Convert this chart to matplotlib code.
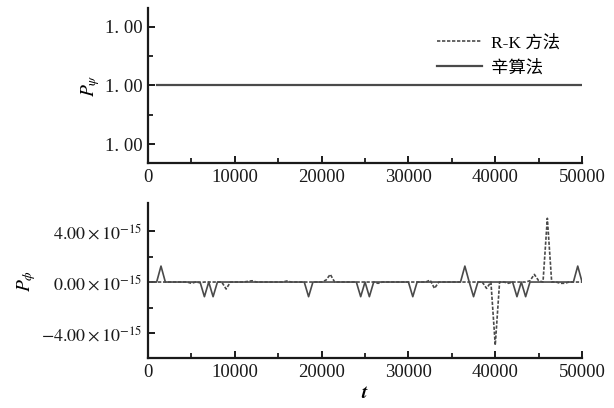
import numpy as np
import matplotlib
matplotlib.use("Agg")
import matplotlib.pyplot as plt
from matplotlib.ticker import FixedLocator, FixedFormatter, MultipleLocator

plt.rcParams['font.family'] = ['Liberation Serif', 'Noto Sans CJK SC']
plt.rcParams['mathtext.fontset'] = 'stix'

# time grid (step 500)
t = np.arange(0, 50001, 500)

# P_phi deviation, units of 1e-15
# symplectic (solid)
sym = [0, 0, 0, 1.25, 0, 0, 0, 0, 0, 0,
       0, 0, 0, -1.15, 0, -1.15, 0, 0, 0, 0,
       0, 0, 0, 0, 0, 0, 0, 0, 0, 0,
       0, 0, 0, 0, 0, 0, 0, -1.15, 0, 0,
       0, 0, 0, 0, 0, 0, 0, 0, 0, -1.15,
       0, -1.15, 0, 0, 0, 0, 0, 0, 0, 0,
       0, -1.15, 0, 0, 0, 0, 0, 0, 0, 0,
       0, 0, 0, 1.25, 0, -1.15, 0, 0, 0, 0,
       0, 0, 0, 0, 0, -1.15, 0, -1.15, 0, 0,
       0, 0, 0, 0, 0, 0, 0, 0, 0, 1.25,
       0]
# Runge-Kutta (dashed)
rk = [0, 0, 0, 0, 0, 0, 0, 0, 0, 0,
      -0.1, 0, -0.05, 0, 0, 0, 0, 0, -0.55, 0,
      0, 0, 0, 0.05, 0.1, 0, 0, 0, 0, 0,
      0, 0, 0.08, 0, 0, 0, 0, 0, 0, 0,
      0, 0.15, 0.6, 0, 0, 0, 0, 0, 0, 0,
      0, 0, 0, -0.1, 0, 0, 0, 0, 0, 0,
      0, 0, 0, 0, 0, 0.15, -0.5, 0, 0, 0,
      0, 0, 0, 0, 0, 0, 0, 0, -0.5, 0,
      -4.95, 0, 0, -0.1, 0, 0, 0, 0, 0.1, 0.6,
      0.1, 0, 5.0, 0, 0, -0.1, -0.1, 0, 0, 0,
      0]
# P_psi (constant)
t_psi = [1000, 50000]
psi = [1.0, 1.0]

col = '#4a4a4a'
fig = plt.figure(figsize=(6.14, 4.08), dpi=100)
ax1 = fig.add_axes([0.241, 0.6005, 0.707, 0.380])
ax2 = fig.add_axes([0.241, 0.1225, 0.707, 0.380])

ax1.plot([], [], ls=(0, (2, 1)), color=col, lw=1.2, label='R-K 方法')
ax1.plot(t_psi, psi, color=col, lw=1.6, label='辛算法')
ax1.set_ylim(1 - 0.0132, 1 + 0.0132)
ax1.yaxis.set_major_locator(FixedLocator([0.99, 1.0, 1.01]))
ax1.yaxis.set_major_formatter(FixedFormatter(['1. 00', '1. 00', '1. 00']))
ax1.yaxis.set_minor_locator(FixedLocator([0.995, 1.005]))
ax1.set_ylabel(r'$P_\psi$', fontsize=14, labelpad=2)
leg = ax1.legend(loc='upper left', bbox_to_anchor=(0.666, 0.825), frameon=False,
                 fontsize=12.5, handlelength=2.6, labelspacing=0.5, handletextpad=0.5,
                 borderpad=0, borderaxespad=0)

ax2.plot(t, np.array(rk) * 1e-15, ls=(0, (2, 1)), color=col, lw=1.2)
ax2.plot(t, np.array(sym) * 1e-15, color=col, lw=1.2)
ax2.set_ylim(-5.96e-15, 6.2e-15)
ax2.yaxis.set_major_locator(FixedLocator([-4e-15, 0, 4e-15]))
ax2.yaxis.set_major_formatter(FixedFormatter([r'$-4.00\times10^{-15}$', r'$0.00\times10^{-15}$',
                                              r'$4.00\times10^{-15}$']))
ax2.yaxis.set_minor_locator(FixedLocator([-2e-15, 2e-15]))
ax2.set_ylabel(r'$P_\phi$', fontsize=14, labelpad=2)
ax2.set_xlabel(r'$\boldsymbol{t}$', fontsize=14, labelpad=3)

for ax in (ax1, ax2):
    ax.set_xlim(0, 50000)
    ax.xaxis.set_major_locator(MultipleLocator(10000))
    ax.xaxis.set_minor_locator(MultipleLocator(5000))
    for s in ('top', 'right'):
        ax.spines[s].set_visible(False)
    for s in ('left', 'bottom'):
        ax.spines[s].set_linewidth(1.6)
        ax.spines[s].set_color('#1a1a1a')
    ax.tick_params(which='major', direction='in', length=5, width=1.4, labelsize=13.5,
                   colors='#1a1a1a', pad=4)
    ax.tick_params(which='minor', direction='in', length=3.5, width=1.3, colors='#1a1a1a')
ax2.tick_params(axis='y', which='major', labelsize=13)

fig.savefig('out.png', dpi=100)
